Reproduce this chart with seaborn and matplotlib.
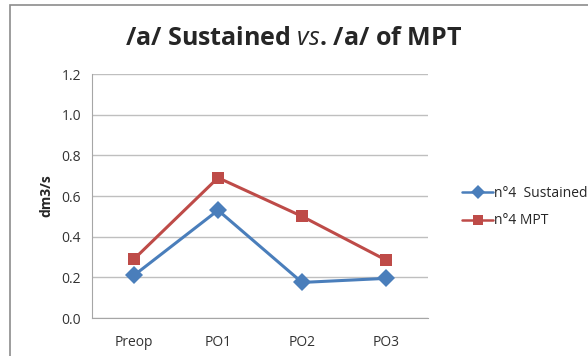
import matplotlib
matplotlib.use("Agg")
import matplotlib.pyplot as plt
import seaborn as sns
import pandas as pd
from matplotlib.patches import Rectangle

categories = ["Preop", "PO1", "PO2", "PO3"]
sustained = [0.21, 0.53, 0.175, 0.195]
mpt = [0.29, 0.69, 0.50, 0.285]

df = pd.DataFrame({
    "stage": categories * 2,
    "value": sustained + mpt,
    "series": ["n°4  Sustained"] * 4 + ["n°4 MPT"] * 4,
})

sns.set_style("white")
plt.rcParams["font.family"] = ["Open Sans", "DejaVu Sans"]
plt.rcParams["mathtext.fontset"] = "custom"
plt.rcParams["mathtext.it"] = "Open Sans:italic"
plt.rcParams["mathtext.rm"] = "Open Sans:bold"

fig = plt.figure(figsize=(5.88, 3.56), dpi=100)
ax = fig.add_axes([0.1565, 0.1067, 0.5715, 0.6853])

palette = {"n°4  Sustained": "#4A7EBB", "n°4 MPT": "#BE4B48"}
markers = {"n°4  Sustained": "D", "n°4 MPT": "s"}
sns.lineplot(data=df, x="stage", y="value", hue="series", style="series",
             palette=palette, markers=markers, dashes=False, sort=False,
             linewidth=2.2, markersize=9, markeredgewidth=0, ax=ax)

ax.set_xlim(-0.5, 3.5)
ax.set_ylim(0, 1.2)
ax.set_yticks([0, 0.2, 0.4, 0.6, 0.8, 1.0, 1.2])
ax.set_yticklabels([f"{v:.1f}" for v in [0, 0.2, 0.4, 0.6, 0.8, 1.0, 1.2]])
ax.yaxis.grid(True, color="#BFBFBF", linewidth=1)
ax.set_axisbelow(True)
for s in ["top", "right"]:
    ax.spines[s].set_visible(False)
for s in ["left", "bottom"]:
    ax.spines[s].set_color("#A6A6A6")
ax.tick_params(axis="both", labelsize=10, colors="#333333", length=0, pad=8)
ax.tick_params(axis="x", pad=12)
ax.set_xlabel("")
ax.set_ylabel("dm3/s", fontsize=10, fontweight="bold", labelpad=6)

fig.text(0.5, 0.893, "/a/ Sustained $\\mathit{vs}$. /a/ of MPT",
         ha="center", va="center", fontsize=18, fontweight="bold")

handles, labels = ax.get_legend_handles_labels()
for h in handles:
    h.set_linewidth(1.8)
    h.set_markersize(7)
ax.legend(handles, labels, loc="center left", bbox_to_anchor=(0.765, 0.418),
          bbox_transform=fig.transFigure, frameon=False, fontsize=10,
          handlelength=2.2, handletextpad=0.1, labelspacing=0.9)

fig.add_artist(Rectangle((10 / 588, -0.1), 1.2, (351 / 356) + 0.1,
                         transform=fig.transFigure, fill=False,
                         edgecolor="#8C8C8C", linewidth=1.2))

fig.savefig("out.png", dpi=100)
